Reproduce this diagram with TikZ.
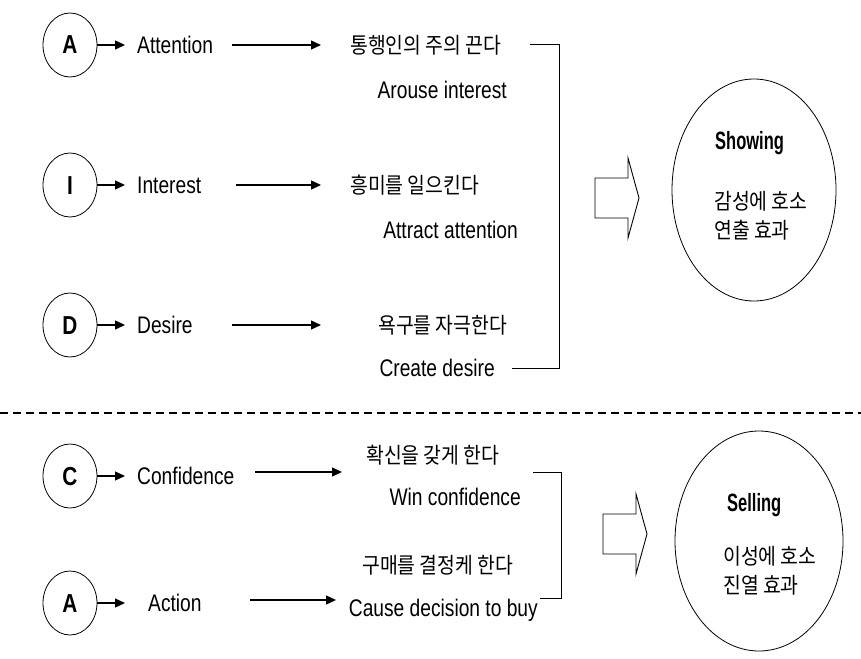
\documentclass[tikz,border=0pt]{standalone}
\usepackage{fontspec}
\setmainfont{Liberation Sans}[FakeStretch=0.8]
\newfontfamily\tightsans{Liberation Sans}[FakeStretch=0.66]
\newfontfamily\kr{Noto Sans CJK KR}[FakeStretch=0.88]
\usetikzlibrary{arrows.meta,shapes.geometric}
\newcommand{\latsize}{\fontsize{24}{28}\selectfont}
\tikzset{
  letter/.style={draw, ellipse, line width=0.8pt, minimum width=54pt, minimum height=64pt,
    inner sep=0pt, font=\fontsize{26}{30}\selectfont\bfseries, text height=18pt, text depth=0pt},
  word/.style={anchor=west, inner sep=0pt, font=\latsize, text height=17pt, text depth=0pt},
  gloss/.style={word, anchor=east},
  hangul/.style={anchor=west, inner sep=0pt, font=\kr\fontsize{22}{26}\selectfont,
    text height=18pt, text depth=1.5pt},
  headline/.style={word, font=\tightsans\fontsize{25}{29}\selectfont\bfseries, text height=18pt},
  goal/.style={draw, ellipse, line width=0.8pt, inner sep=0pt},
  tip/.style={line width=1.3pt, -{Triangle[length=10pt,width=9pt]}},
  brace/.style={line width=0.9pt},
  divider/.style={line width=1.6pt, dash pattern=on 8pt off 5pt},
  blockarrow/.style={line width=0.9pt}
}

\begin{document}
\begin{tikzpicture}[x=1pt, y=-1pt]
 \useasboundingbox (0,0) rectangle (861,658);
 % steps: circle letter, name, short arrow
 \foreach \n/\y/\L/\W/\wx in {1/45/A/Attention/137, 2/185/I/Interest/137, 3/325/D/Desire/137,
     4/476/C/Confidence/137, 5/603/A/Action/148} {
   \node[letter] (c\n) at (70,\y) {\L};
   \node[word] (w\n) at (\wx,\y) {\W};
   \coordinate (p\n) at (125,\y);
   \draw[tip] (c\n) -- (p\n);
 }
 % long arrows
 \foreach \n/\y/\a/\b in {1/45/232/321, 2/185/236/321, 3/325/232/321, 4/472/255/342, 5/600/250/336} {
   \coordinate (s\n) at (\a,\y);
   \coordinate (t\n) at (\b,\y);
   \draw[tip] (s\n) -- (t\n);
 }
 \foreach \n/\x/\y/\K in {1/350/45/통행인의 주의 끈다, 2/350/185/흥미를 일으킨다, 3/378/325/욕구를 자극한다,
     4/366/455/확신을 갖게 한다, 5/362/565/구매를 결정케 한다}
   \node[hangul] (k\n) at (\x,\y) {\K};
 \foreach \n/\x/\y/\E in {1/507/90/Arouse interest, 2/518/230/Attract attention, 3/495/368/Create desire,
     4/521/497/Win confidence, 5/538/608/Cause decision to buy}
   \node[gloss] (e\n) at (\x,\y) {\E};
 % brackets
 \coordinate (b1) at (530,44); \coordinate (b2) at (559,44);
 \coordinate (b3) at (559,368); \coordinate (b4) at (512,368);
 \draw[brace] (b1) -- (b2) -- (b3) -- (b4);
 \coordinate (b5) at (533,472); \coordinate (b6) at (561,472);
 \coordinate (b7) at (561,598); \coordinate (b8) at (540,598);
 \draw[brace] (b5) -- (b6) -- (b7) -- (b8);
 % block arrows
 \foreach \x/\y in {595/198, 603/534}
   \draw[blockarrow] (\x,\y-20) -- ++(33,0) -- ++(0,-20) -- ++(11,40) -- ++(-11,40)
     -- ++(0,-20) -- ++(-33,0) -- cycle;
 % results
 \node[goal, minimum width=164pt, minimum height=222pt] (show) at (754,190) {};
 \node[headline] (showT) at (715,140) {Showing};
 \node[hangul] (showK1) at (714,201) {감성에 호소};
 \node[hangul] (showK2) at (714,230) {연출 효과};
 \node[goal, minimum width=168pt, minimum height=220pt] (sell) at (759,541) {};
 \node[headline] (sellT) at (727,502) {Selling};
 \node[hangul] (sellK1) at (723,556) {이성에 호소};
 \node[hangul] (sellK2) at (723,585) {진열 효과};
 % divider
 \coordinate (dL) at (0,413); \coordinate (dR) at (861,413);
 \draw[divider] (dL) -- (dR);
\end{tikzpicture}
\end{document}
